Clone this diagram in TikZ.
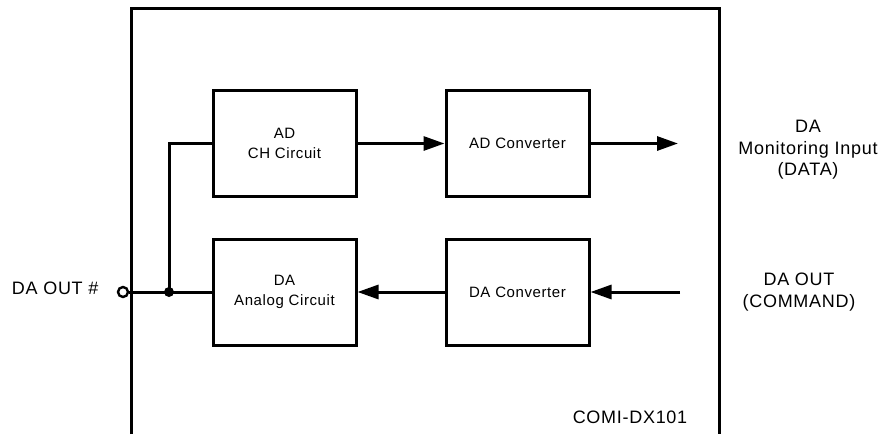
\documentclass[tikz,border=0pt]{standalone}
\usepackage{fontspec}
\setmainfont{Liberation Sans}
\newfontfamily\spacedsans{Liberation Sans}[LetterSpace=4]
\usetikzlibrary{arrows.meta}

\tikzset{
  blockbox/.style={draw, line width=3pt, minimum width=143pt, minimum height=106pt,
    inner sep=0pt, align=center, font=\spacedsans\fontsize{15}{19.5}\selectfont},
  sigline/.style={line width=3pt},
  sigarrow/.style={sigline, -{Triangle[length=21pt, width=14pt]}},
  outlabel/.style={align=center, font=\spacedsans\fontsize{18}{21.5}\selectfont}
}

\begin{document}
\begin{tikzpicture}[x=1pt, y=-1pt]

  \useasboundingbox (0, 0) rectangle (889, 434);

  % Cadre du module
  \draw[line width=3pt] (131, 434) -- (131, 8) -- (719, 8) -- (719, 434);

  % Blocs
  \node[blockbox] (adch) at (284.5, 143.5) {AD\\CH Circuit};
  \node[blockbox] (adconv) at (517.5, 143.5) {AD Converter};
  \node[blockbox] (daana) at (284.5, 292) {DA\\Analog Circuit};
  \node[blockbox] (daconv) at (517.5, 292) {DA Converter};

  % Entrees / sorties
  \coordinate (monout) at (678, 143.5);
  \coordinate (cmdin) at (680, 292);
  \node[draw, circle, line width=2.4pt, minimum size=10pt, inner sep=0pt, fill=white] (daout) at (123, 292) {};
  \node[circle, fill, minimum size=10pt, inner sep=0pt] (junc) at (169, 292) {};

  % Fleches
  \draw[sigarrow] (adch) -- (adconv);
  \draw[sigarrow] (adconv) -- (monout);
  \draw[sigarrow] (cmdin) -- (daconv);
  \draw[sigarrow] (daconv) -- (daana);

  % Liaison DA OUT
  \draw[sigline] (daout) -- (daana);
  \draw[sigline] (junc.center) |- (adch.west);

  % Textes
  \node[outlabel, anchor=east] (daoutlbl) at (102, 288) {DA OUT \#};
  \node[outlabel] (monlbl) at (808, 150) {DA\\Monitoring Input\\(DATA)};
  \node[outlabel] (cmdlbl) at (799, 292) {DA OUT\\(COMMAND)};
  \node[outlabel] (model) at (630, 417) {COMI-DX101};

\end{tikzpicture}
\end{document}
